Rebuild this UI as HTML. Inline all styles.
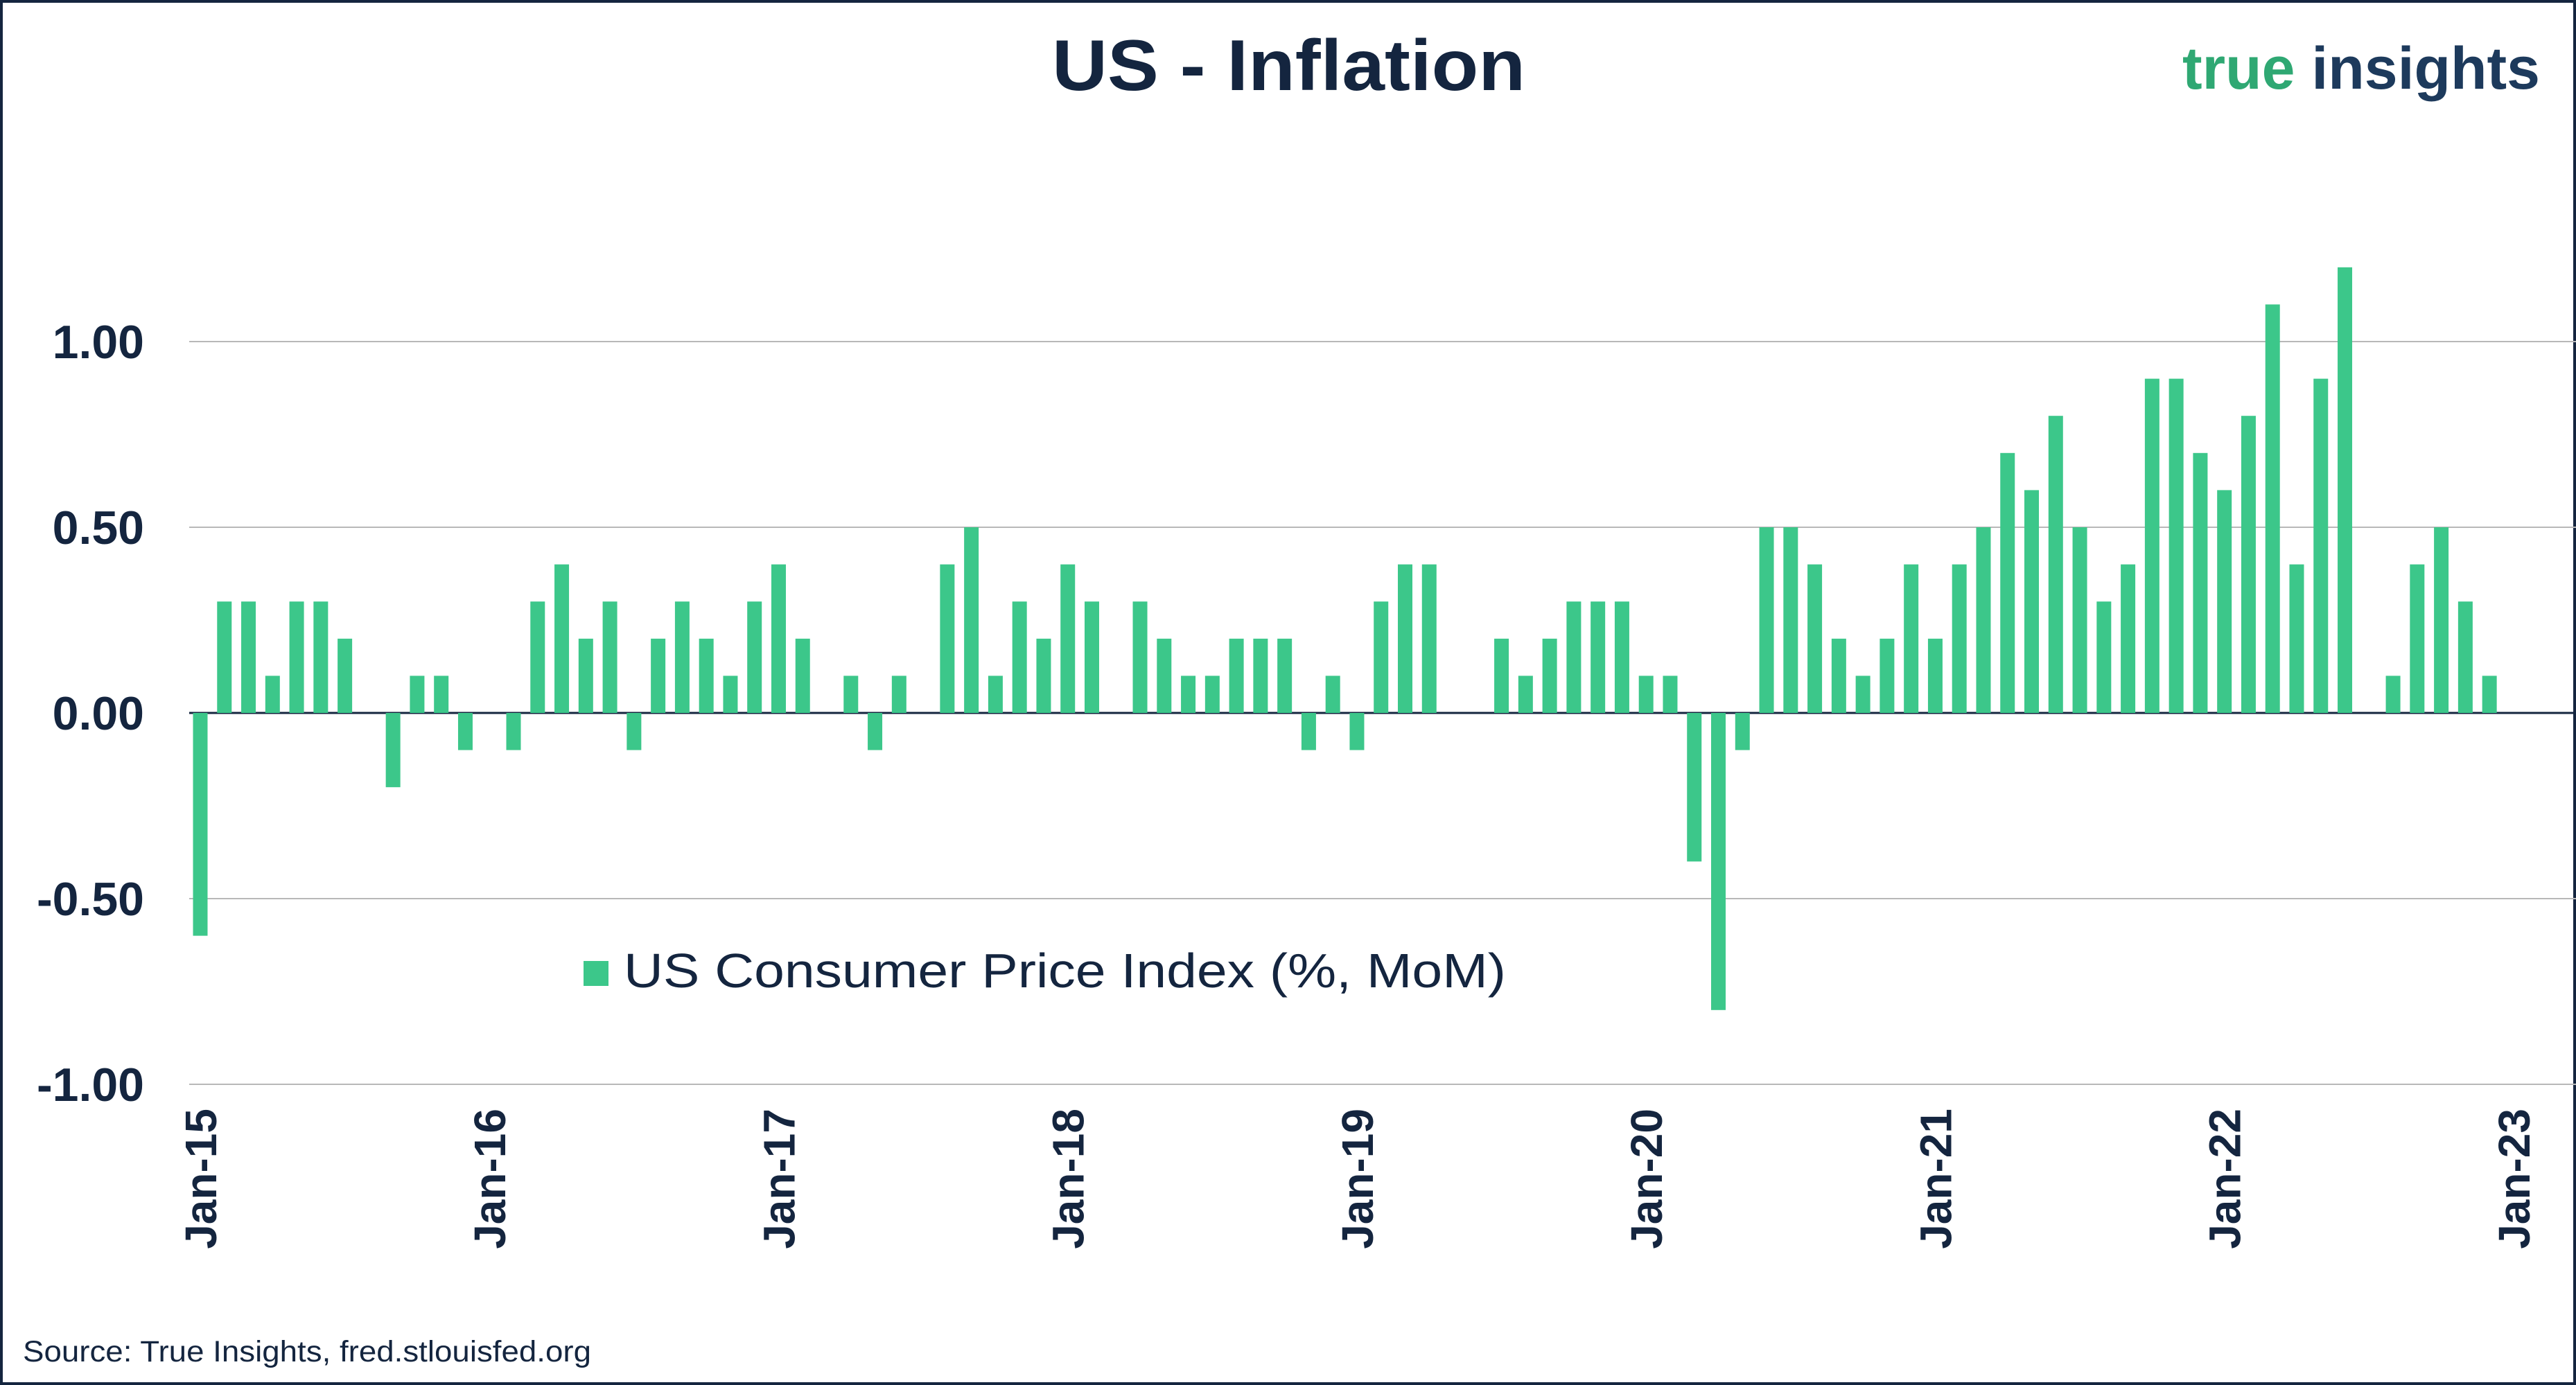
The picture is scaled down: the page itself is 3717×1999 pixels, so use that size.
<!DOCTYPE html>
<html><head><meta charset="utf-8"><style>
html,body{margin:0;padding:0;background:#fff}
svg{display:block}
</style></head><body>
<svg id="chart" width="3717" height="1999" xmlns="http://www.w3.org/2000/svg" font-family="'Liberation Sans', sans-serif">
<rect x="2" y="2" width="3713" height="1995" fill="#fff" stroke="#14253f" stroke-width="4"/>
<text x="1518" y="130" textLength="683" lengthAdjust="spacingAndGlyphs" font-size="104" font-weight="bold" fill="#14253f">US - Inflation</text>
<text x="3665" y="128" text-anchor="end" font-size="86" font-weight="bold"><tspan fill="#2fa873">true</tspan><tspan fill="#1d3a5c"> insights</tspan></text>
<g id="grid"></g>
<g id="bars"></g>
<g id="xlabels"></g>
<rect x="842" y="1387" width="36" height="36" fill="#3cc78a"/>
<text x="900" y="1425" font-size="70" textLength="1273" lengthAdjust="spacingAndGlyphs" fill="#14253f">US Consumer Price Index (%, MoM)</text>
<text x="33" y="1965" font-size="43" textLength="820" lengthAdjust="spacingAndGlyphs" fill="#14253f">Source: True Insights, fred.stlouisfed.org</text>
</svg>
<script>
const values = [
-0.6,0.3,0.3,0.1,0.3,0.3,0.2,0.0,-0.2,0.1,0.1,-0.1,
0.0,-0.1,0.3,0.4,0.2,0.3,-0.1,0.2,0.3,0.2,0.1,0.3,
0.4,0.2,0.0,0.1,-0.1,0.1,0.0,0.4,0.5,0.1,0.3,0.2,
0.4,0.3,0.0,0.3,0.2,0.1,0.1,0.2,0.2,0.2,-0.1,0.1,
-0.1,0.3,0.4,0.4,0.0,0.0,0.2,0.1,0.2,0.3,0.3,0.3,
0.1,0.1,-0.4,-0.8,-0.1,0.5,0.5,0.4,0.2,0.1,0.2,0.4,
0.2,0.4,0.5,0.7,0.6,0.8,0.5,0.3,0.4,0.9,0.9,0.7,
0.6,0.8,1.1,0.4,0.9,1.2,0.0,0.1,0.4,0.5,0.3,0.1];
const yTicks = [1.0,0.5,0.0,-0.5,-1.0];
const yTickLabels = ["1.00","0.50","0.00","-0.50","-1.00"];
const xTickIdx = [0,12,24,36,48,60,72,84,96];
const xTickLabels = ["Jan-15","Jan-16","Jan-17","Jan-18","Jan-19","Jan-20","Jan-21","Jan-22","Jan-23"];

const NS="http://www.w3.org/2000/svg";
const X0=289, DX=34.77, Y0=1029, PY=536;
const xS=i=>X0+i*DX;
const yS=v=>Y0-v*PY;
function mk(t,a,p){const e=document.createElementNS(NS,t);for(const k in a)e.setAttribute(k,a[k]);p.appendChild(e);return e;}
const grid=document.getElementById('grid');
yTicks.forEach((v,i)=>{
  const l=mk('line',{x1:273,x2:3717,y1:yS(v),y2:yS(v),stroke:v===0?'#14253f':'#b8b8b8','stroke-width':v===0?3:2},grid);
  
  
  const t=mk('text',{x:208,y:yS(v)+24,'text-anchor':'end','font-size':68,'font-weight':'bold',fill:'#14253f'},grid);
  t.textContent=yTickLabels[i];
  
  
});
const bars=document.getElementById('bars');
values.forEach((v,i)=>{
  const y=Math.min(yS(v),Y0), h=Math.abs(yS(v)-Y0);
  const r=mk('rect',{x:xS(i)-10.5,y:y,width:21,height:h,fill:'#3cc78a'},bars);
  
  
});
const xl=document.getElementById('xlabels');
xTickIdx.forEach((idx,i)=>{
  const x=xS(idx);
  const t=mk('text',{x:0,y:0,'text-anchor':'end','font-size':64,'font-weight':'bold',fill:'#14253f',transform:`translate(${x+23},1600) rotate(-90)`},xl);
  t.textContent=xTickLabels[i];
  
  
});
</script>
</body></html>
